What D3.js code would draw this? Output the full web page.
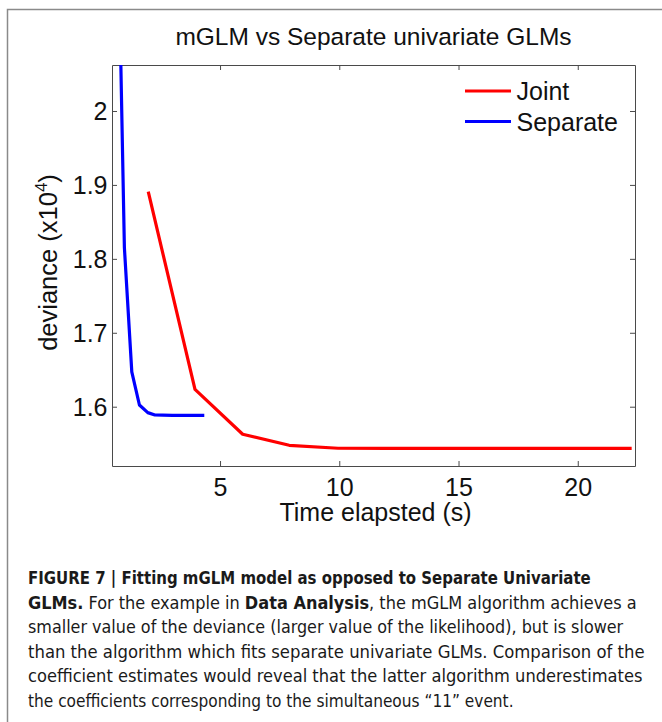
<!DOCTYPE html>
<html>
<head>
<meta charset="utf-8">
<script src="https://cdn.jsdelivr.net/npm/d3@7"></script>
<style>
  html, body { margin: 0; padding: 0; background: #fff; }
  svg { display: block; }
</style>
</head>
<body>
<script>
// ---- data ----
const jointTime = [1.99, 3.95, 5.95, 7.9, 9.95, 12, 14, 16, 18, 20, 22.26];
const jointDeviance = [1.8908, 1.6235, 1.5627, 1.5478, 1.5438, 1.5436, 1.5436, 1.5436, 1.5436, 1.5436, 1.5436];
const sepTime = [0.80, 0.99, 1.30, 1.62, 1.97, 2.27, 2.6, 3.0, 3.5, 4.0, 4.34];
const sepDeviance = [2.13, 1.815, 1.647, 1.6023, 1.592, 1.5888, 1.5885, 1.5884, 1.5884, 1.5884, 1.5884];
const xTicks = [5, 10, 15, 20];
const yTicks = [1.6, 1.7, 1.8, 1.9, 2.0];
const yTickLabels = ["1.6", "1.7", "1.8", "1.9", "2"];
const seriesNames = ["Joint", "Separate"];
const seriesColors = ["#ff0000", "#0000ff"];
const xDomain = [0.47, 22.4];
const yDomain = [1.5198, 2.0622];

const W = 662, H = 722;
const svg = d3.select("body").append("svg").attr("width", W).attr("height", H);

// outer frame
svg.append("path").attr("d", `M7.5,${H} L7.5,9.5 L${W},9.5`)
  .attr("fill", "none").attr("stroke", "#8a8a8a").attr("stroke-width", 1.5);

const L = 112, R = 635, T = 65, B = 466;
const x = d3.scaleLinear().domain(xDomain).range([L, R]);
const y = d3.scaleLinear().domain(yDomain).range([B, T]);

const font = "'Liberation Sans', Arial, Helvetica, sans-serif";
const axisColor = "#4a4a4a";

// title
svg.append("text").attr("x", (L + R) / 2).attr("y", 44.5).attr("text-anchor", "middle")
  .style("font-family", font).attr("font-size", 24.5).attr("fill", "#111")
  .text("mGLM vs Separate univariate GLMs");

// clip
svg.append("defs").append("clipPath").attr("id", "clip")
  .append("rect").attr("x", L).attr("y", T).attr("width", R - L).attr("height", B - T);

// axes (box with inward ticks on all sides)
const tickLen = 5;
const gBottom = svg.append("g").attr("transform", `translate(0,${B})`)
  .call(d3.axisBottom(x).tickValues(xTicks).tickSizeInner(-tickLen).tickSizeOuter(0).tickPadding(12).tickFormat(d3.format("d")));
const gTop = svg.append("g").attr("transform", `translate(0,${T})`)
  .call(d3.axisTop(x).tickValues(xTicks).tickSizeInner(-tickLen).tickSizeOuter(0).tickFormat(""));
const gLeft = svg.append("g").attr("transform", `translate(${L},0)`)
  .call(d3.axisLeft(y).tickValues(yTicks).tickSizeInner(-tickLen).tickSizeOuter(0).tickPadding(4.5)
    .tickFormat((d, i) => yTickLabels[i]));
const gRight = svg.append("g").attr("transform", `translate(${R},0)`)
  .call(d3.axisRight(y).tickValues(yTicks).tickSizeInner(-tickLen).tickSizeOuter(0).tickFormat(""));
[gBottom, gTop, gLeft, gRight].forEach(g => {
  g.attr("font-family", null).attr("font-size", null);
  g.select(".domain").attr("stroke", axisColor).attr("stroke-width", 1);
  g.selectAll(".tick line").attr("stroke", axisColor).attr("stroke-width", 1);
  g.selectAll(".tick text").style("font-family", font).style("font-size", "25px").attr("fill", "#111");
});
gBottom.selectAll(".tick text").attr("dy", "0.71em");
gLeft.selectAll(".tick text").attr("dy", "0.36em");

// axis labels
svg.append("text").attr("x", (L + R) / 2 + 2).attr("y", 521).attr("text-anchor", "middle")
  .style("font-family", font).attr("font-size", 25).attr("fill", "#111")
  .text("Time elapsted (s)");
const yl = svg.append("text").attr("transform", `translate(57,${(T + B) / 2 - 3}) rotate(-90)`)
  .attr("text-anchor", "middle").style("font-family", font).attr("font-size", 25.5).attr("fill", "#111");
yl.append("tspan").text("deviance (x10");
yl.append("tspan").attr("font-size", 17).attr("dy", -10).text("4");
yl.append("tspan").attr("dy", 10).text(")");

// lines
const line = d3.line().x(d => x(d[0])).y(d => y(d[1]));
const plot = svg.append("g").attr("clip-path", "url(#clip)");
const series = [
  d3.zip(jointTime, jointDeviance),
  d3.zip(sepTime, sepDeviance)
];
series.forEach((s, i) => {
  plot.append("path").datum(s).attr("d", line).attr("fill", "none")
    .attr("stroke", seriesColors[i]).attr("stroke-width", 3.2)
    .attr("stroke-linejoin", "round").attr("stroke-linecap", "butt");
});

// legend
const legY = [91, 121.5];
seriesNames.forEach((n, i) => {
  svg.append("line").attr("x1", 465).attr("x2", 511).attr("y1", legY[i]).attr("y2", legY[i])
    .attr("stroke", seriesColors[i]).attr("stroke-width", 3.2);
  svg.append("text").attr("x", 516.5).attr("y", legY[i]).attr("dy", "0.36em")
    .style("font-family", font).attr("font-size", 25).attr("fill", "#111").text(n);
});

// caption
const capFont = "'Liberation Sans Narrow', 'DejaVu Sans Condensed', 'Arial Narrow', sans-serif";
const capLines = [
  { segs: [["FIGURE 7 | Fitting mGLM model as opposed to Separate Univariate", true]], w: 563 },
  { segs: [["GLMs.", true], [" For the example in ", false], ["Data Analysis", true], [", the mGLM algorithm achieves a", false]], w: 609 },
  { segs: [["smaller value of the deviance (larger value of the likelihood), but is slower", false]], w: 596 },
  { segs: [["than the algorithm which fits separate univariate GLMs. Comparison of the", false]], w: 617 },
  { segs: [["coefficient estimates would reveal that the latter algorithm underestimates", false]], w: 615 },
  { segs: [["the coefficients corresponding to the simultaneous \u201c11\u201d event.", false]], w: 486 }
];
capLines.forEach((ln, i) => {
  const g = svg.append("g");
  const t = g.append("text").attr("x", 0).attr("y", 0)
    .style("font-family", capFont).attr("font-size", 18).attr("fill", "#1a1a1a")
    .style("white-space", "pre");
  ln.segs.forEach(s => {
    t.append("tspan").attr("font-weight", s[1] ? "bold" : "normal").text(s[0]);
  });
  const natural = t.node().getComputedTextLength();
  const sx = natural > 0 ? ln.w / natural : 1;
  g.attr("transform", `translate(28,${584 + i * 24.5}) scale(${sx},1)`);
});
</script>
</body>
</html>
